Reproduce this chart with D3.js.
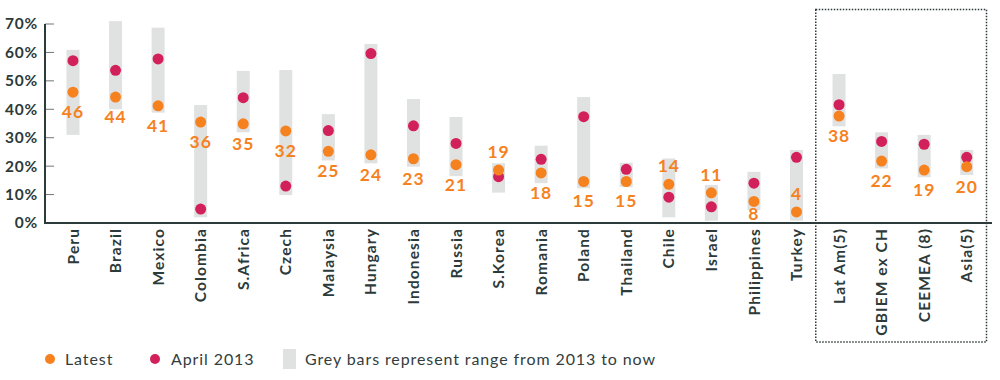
<!DOCTYPE html>
<html>
<head>
<meta charset="utf-8">
<script src="https://cdn.jsdelivr.net/npm/d3@7"></script>
<style>
  html, body { margin: 0; padding: 0; background: #fff; }
  svg { display: block; font-family: Lato, "Noto Sans", sans-serif; }
</style>
</head>
<body>
<svg id="chart" width="1000" height="380"></svg>
<script>
const categories = ["Peru","Brazil","Mexico","Colombia","S.Africa","Czech","Malaysia","Hungary","Indonesia","Russia","S.Korea","Romania","Poland","Thailand","Chile","Israel","Philippines","Turkey","Lat Am(5)","GBIEM ex CH","CEEMEA (8)","Asia(5)"];
const latest   = [46.0, 44.3, 41.2, 35.5, 34.9, 32.4, 25.2, 24.0, 22.6, 20.5, 18.6, 17.6, 14.6, 14.6, 13.6, 10.6, 7.6, 3.9, 37.6, 21.8, 18.6, 19.8];
const april2013 = [57.1, 53.7, 57.7, 4.9, 44.1, 13.0, 32.5, 59.6, 34.2, 28.0, 16.3, 22.4, 37.4, 18.9, 9.1, 5.7, 14.0, 23.1, 41.6, 28.7, 27.7, 23.1];
const rangeLow  = [31.0, 40.0, 38.8, 2.0, 31.9, 9.8, 22.0, 21.0, 19.8, 16.5, 10.7, 14.0, 12.2, 12.6, 2.0, 0.8, 4.6, 0.8, 34.0, 19.2, 16.1, 16.9];
const rangeHigh = [60.9, 71.0, 68.7, 41.5, 53.5, 53.8, 38.3, 63.0, 43.6, 37.3, 21.0, 27.2, 44.3, 21.2, 22.7, 13.4, 18.0, 25.7, 52.4, 31.9, 31.0, 25.7];
const labelSide = ["below","below","below","below","below","below","below","below","below","below","above","below","below","below","above","above","below","above","below","below","below","below"];
const yTicks = [0, 10, 20, 30, 40, 50, 60, 70];
const regionGroup = ["Lat Am(5)","GBIEM ex CH","CEEMEA (8)","Asia(5)"];
const legendItems = ["Latest", "April 2013", "Grey bars represent range from 2013 to now"];

const C_ORANGE = "#F5821F";
const C_RED = "#D2215A";
const C_GREY = "#E0E1E1";
const C_AXIS = "#2C3A3A";
const FONT = "Lato, 'Noto Sans', sans-serif";

const svg = d3.select("#chart");
const axisX0 = 45, axisX1 = 992, yTop = 24, yBottom = 223;

const x = d3.scaleBand().domain(categories).range([51.7, 988]).padding(0);
const y = d3.scaleLinear().domain([0, 70]).range([yBottom, yTop]);
const cx = c => x(c) + x.bandwidth() / 2;

// bars
const barW = 13;
svg.append("g").selectAll("rect").data(categories).join("rect")
  .attr("x", c => cx(c) - barW / 2)
  .attr("width", barW)
  .attr("y", (c, i) => y(rangeHigh[i]))
  .attr("height", (c, i) => y(rangeLow[i]) - y(rangeHigh[i]))
  .attr("fill", C_GREY);

// y axis
const yAxis = d3.axisLeft(y).tickValues(yTicks).tickFormat(d => d + "%").tickSize(0).tickPadding(7);
const gy = svg.append("g").attr("transform", `translate(${axisX0},0)`).call(yAxis);
gy.select(".domain").remove();
gy.selectAll("text").attr("font-size", 15.5).attr("font-weight", 700).attr("fill", C_AXIS)
  .attr("font-family", FONT).attr("letter-spacing", 0.8);
// inner tick marks
svg.append("g").selectAll("line").data(yTicks.filter(t => t > 0)).join("line")
  .attr("x1", axisX0).attr("x2", axisX0 + 9)
  .attr("y1", d => y(d)).attr("y2", d => y(d))
  .attr("stroke", "#6f7878").attr("stroke-width", 1);
svg.append("line").attr("x1", axisX0).attr("x2", axisX0)
  .attr("y1", y(70)).attr("y2", y(0) + 1)
  .attr("stroke", C_AXIS).attr("stroke-width", 2);

// x axis
const xAxis = d3.axisBottom(x).tickSize(0).tickPadding(0);
const gx = svg.append("g").attr("transform", `translate(0,${yBottom})`).call(xAxis);
gx.select(".domain").remove();
gx.selectAll("text")
  .attr("font-size", 15.5).attr("font-weight", 700).attr("fill", C_AXIS)
  .attr("font-family", FONT).attr("letter-spacing", 1.1)
  .attr("text-anchor", "end")
  .attr("transform", "rotate(-90)")
  .attr("x", -5).attr("y", 0).attr("dy", "0.36em");
svg.append("line").attr("x1", axisX0 - 1).attr("x2", axisX1)
  .attr("y1", yBottom).attr("y2", yBottom)
  .attr("stroke", C_AXIS).attr("stroke-width", 2);

// dots
const r = 5.5;
svg.append("g").selectAll("circle").data(categories).join("circle")
  .attr("cx", c => cx(c)).attr("cy", (c, i) => y(april2013[i])).attr("r", r).attr("fill", C_RED);
svg.append("g").selectAll("circle").data(categories).join("circle")
  .attr("cx", c => cx(c)).attr("cy", (c, i) => y(latest[i])).attr("r", r).attr("fill", C_ORANGE);

// labels
svg.append("g").selectAll("text").data(categories).join("text")
  .attr("x", c => cx(c))
  .attr("y", (c, i) => {
    const py = y(latest[i]);
    if (labelSide[i] === "above") return py - 12;
    return Math.min(py + 26, yBottom - 3);
  })
  .attr("text-anchor", "middle")
  .attr("font-size", 17.5).attr("font-weight", 700).attr("fill", C_ORANGE)
  .attr("letter-spacing", 1)
  .text((c, i) => Math.round(latest[i]));

// dotted region box
const bx0 = x(regionGroup[0]) - 2, bx1 = x(regionGroup[regionGroup.length - 1]) + x.bandwidth() - 1.5;
svg.append("rect")
  .attr("x", bx0).attr("y", 9.5)
  .attr("width", bx1 - bx0).attr("height", 342 - 9.5)
  .attr("fill", "none").attr("stroke", C_AXIS).attr("stroke-width", 1.5)
  .attr("stroke-dasharray", "1.5,1.5");

// legend
const lg = svg.append("g").attr("transform", "translate(0,359)");
lg.append("circle").attr("cx", 50).attr("cy", 0).attr("r", 5).attr("fill", C_ORANGE);
lg.append("text").attr("x", 65).attr("y", 0).attr("dy", "0.35em").text(legendItems[0]);
lg.append("circle").attr("cx", 155).attr("cy", 0).attr("r", 5).attr("fill", C_RED);
lg.append("text").attr("x", 171).attr("y", 0).attr("dy", "0.35em").text(legendItems[1]);
lg.append("rect").attr("x", 283).attr("y", -10).attr("width", 13).attr("height", 20).attr("fill", C_GREY);
lg.append("text").attr("x", 305).attr("y", 0).attr("dy", "0.35em").text(legendItems[2]);
lg.selectAll("text").attr("font-size", 16).attr("fill", "#333d3d").attr("letter-spacing", 0.9);
</script>
</body>
</html>
